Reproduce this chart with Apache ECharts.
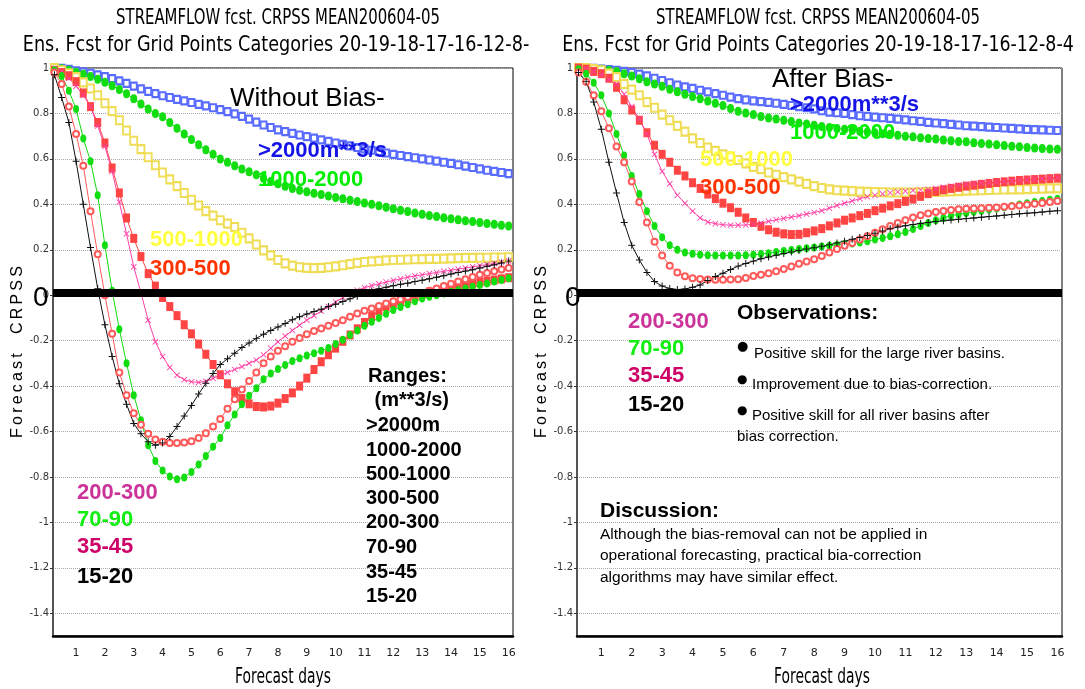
<!DOCTYPE html>
<html>
<head>
<meta charset="utf-8">
<title>Streamflow CRPSS</title>
<script src="https://cdn.jsdelivr.net/npm/echarts@6/dist/echarts.min.js"></script>
<style>
  html, body { margin: 0; padding: 0; background: #fff; }
  #chart { width: 1085px; height: 689px; }
</style>
</head>
<body>
<div id="chart"></div>
<script>
// forecast lead time, 6-hourly steps (days)
var days = [0.25,0.5,0.75,1,1.25,1.5,1.75,2,2.25,2.5,2.75,3,3.25,3.5,3.75,4,
  4.25,4.5,4.75,5,5.25,5.5,5.75,6,6.25,6.5,6.75,7,7.25,7.5,7.75,8,
  8.25,8.5,8.75,9,9.25,9.5,9.75,10,10.25,10.5,10.75,11,11.25,11.5,11.75,12,
  12.25,12.5,12.75,13,13.25,13.5,13.75,14,14.25,14.5,14.75,15,15.25,15.5,15.75,16];
var dayTicks = [1,2,3,4,5,6,7,8,9,10,11,12,13,14,15,16];
var crpssTicks = [-1.4,-1.2,-1,-0.8,-0.6,-0.4,-0.2,0,0.2,0.4,0.6,0.8,1];
var categories = ['>2000','1000-2000','500-1000','300-500','200-300','70-90','35-45','15-20'];

// Without bias correction
var rawGt2000 = [1.0,0.998,0.994,0.988,0.983,0.977,0.97,0.962,
  0.953,0.943,0.932,0.92,0.908,0.897,0.887,0.878,
  0.87,0.862,0.855,0.848,0.84,0.833,0.825,0.817,
  0.808,0.798,0.787,0.775,0.762,0.749,0.738,0.728,
  0.72,0.712,0.705,0.698,0.691,0.684,0.677,0.67,
  0.664,0.657,0.65,0.644,0.638,0.632,0.626,0.62,
  0.615,0.61,0.605,0.6,0.595,0.59,0.585,0.58,
  0.574,0.568,0.562,0.556,0.55,0.545,0.54,0.535];
var raw1000_2000 = [1.0,0.997,0.99,0.981,0.973,0.963,0.95,0.937,
  0.922,0.905,0.887,0.865,0.842,0.82,0.8,0.785,
  0.76,0.735,0.71,0.685,0.662,0.64,0.62,0.6,
  0.585,0.57,0.556,0.543,0.53,0.515,0.5,0.49,
  0.48,0.47,0.462,0.455,0.449,0.443,0.437,0.43,
  0.424,0.418,0.412,0.406,0.4,0.394,0.387,0.38,
  0.374,0.368,0.362,0.356,0.351,0.346,0.341,0.336,
  0.332,0.328,0.324,0.32,0.316,0.312,0.308,0.305];
var raw500_1000 = [1.0,0.99,0.977,0.96,0.937,0.91,0.88,0.845,
  0.81,0.77,0.725,0.68,0.643,0.607,0.572,0.54,
  0.51,0.48,0.45,0.42,0.395,0.37,0.35,0.33,
  0.315,0.3,0.275,0.25,0.223,0.197,0.175,0.155,
  0.14,0.13,0.123,0.12,0.119,0.12,0.123,0.127,
  0.132,0.137,0.142,0.146,0.149,0.151,0.153,0.155,
  0.156,0.157,0.158,0.159,0.16,0.16,0.161,0.162,
  0.163,0.164,0.164,0.165,0.165,0.166,0.166,0.167];
var raw300_500 = [0.99,0.98,0.966,0.94,0.89,0.83,0.76,0.67,
  0.56,0.45,0.34,0.25,0.17,0.095,0.04,-0.01,
  -0.05,-0.09,-0.13,-0.17,-0.215,-0.26,-0.305,-0.35,
  -0.39,-0.425,-0.455,-0.478,-0.49,-0.492,-0.488,-0.475,
  -0.455,-0.43,-0.4,-0.365,-0.327,-0.293,-0.262,-0.233,
  -0.203,-0.175,-0.148,-0.12,-0.093,-0.068,-0.05,-0.036,
  -0.025,-0.015,-0.005,0.005,0.013,0.02,0.026,0.032,
  0.038,0.044,0.05,0.056,0.062,0.067,0.072,0.077];
var raw200_300 = [0.995,0.985,0.955,0.92,0.88,0.83,0.745,0.655,
  0.545,0.41,0.27,0.125,0.01,-0.11,-0.205,-0.27,
  -0.318,-0.352,-0.372,-0.381,-0.384,-0.379,-0.366,-0.352,
  -0.34,-0.327,-0.314,-0.3,-0.286,-0.262,-0.234,-0.205,
  -0.18,-0.155,-0.132,-0.11,-0.09,-0.07,-0.05,-0.03,
  -0.01,0.008,0.022,0.033,0.042,0.05,0.058,0.065,
  0.072,0.079,0.085,0.09,0.095,0.1,0.105,0.11,
  0.115,0.12,0.125,0.13,0.135,0.14,0.145,0.15];
var raw70_90 = [0.99,0.965,0.9,0.82,0.69,0.59,0.44,0.22,
  0.02,-0.15,-0.3,-0.44,-0.55,-0.66,-0.73,-0.772,
  -0.798,-0.81,-0.802,-0.778,-0.745,-0.708,-0.667,-0.628,
  -0.572,-0.525,-0.48,-0.443,-0.41,-0.37,-0.345,-0.325,
  -0.307,-0.29,-0.277,-0.265,-0.255,-0.245,-0.232,-0.215,
  -0.196,-0.175,-0.155,-0.135,-0.117,-0.1,-0.082,-0.065,
  -0.052,-0.04,-0.027,-0.015,-0.007,0.0,0.008,0.015,
  0.022,0.03,0.037,0.045,0.052,0.06,0.067,0.075];
var raw35_45 = [0.98,0.93,0.83,0.71,0.57,0.37,0.18,0.0,
  -0.17,-0.34,-0.44,-0.52,-0.57,-0.61,-0.635,-0.645,
  -0.65,-0.651,-0.648,-0.643,-0.628,-0.608,-0.578,-0.545,
  -0.5,-0.458,-0.415,-0.378,-0.34,-0.3,-0.27,-0.245,
  -0.225,-0.205,-0.188,-0.172,-0.158,-0.147,-0.135,-0.122,
  -0.11,-0.095,-0.08,-0.068,-0.058,-0.047,-0.037,-0.027,
  -0.018,-0.008,0.002,0.01,0.02,0.03,0.04,0.05,
  0.06,0.07,0.08,0.09,0.098,0.105,0.113,0.12];
var raw15_20 = [0.97,0.87,0.76,0.59,0.4,0.21,0.03,-0.13,
  -0.27,-0.39,-0.48,-0.565,-0.61,-0.645,-0.66,-0.65,
  -0.622,-0.578,-0.532,-0.485,-0.435,-0.388,-0.345,-0.305,
  -0.28,-0.255,-0.23,-0.21,-0.19,-0.172,-0.155,-0.14,
  -0.125,-0.108,-0.095,-0.083,-0.072,-0.062,-0.05,-0.04,
  -0.028,-0.016,-0.005,0.008,0.018,0.028,0.035,0.042,
  0.048,0.053,0.06,0.066,0.072,0.079,0.086,0.093,
  0.1,0.106,0.112,0.12,0.127,0.134,0.142,0.15];

// After bias correction
var corGt2000 = [1.0,1.0,0.998,0.995,0.993,0.99,0.985,0.98,
  0.973,0.965,0.955,0.945,0.935,0.925,0.917,0.91,
  0.902,0.895,0.887,0.88,0.872,0.865,0.86,0.855,
  0.852,0.849,0.845,0.84,0.835,0.83,0.825,0.82,
  0.812,0.806,0.803,0.8,0.795,0.79,0.787,0.784,
  0.781,0.778,0.775,0.772,0.768,0.765,0.761,0.758,
  0.755,0.752,0.749,0.746,0.744,0.742,0.74,0.738,
  0.736,0.734,0.732,0.73,0.729,0.728,0.726,0.725];
var cor1000_2000 = [1.0,1.0,0.998,0.995,0.99,0.985,0.975,0.965,
  0.953,0.94,0.93,0.92,0.907,0.895,0.885,0.875,
  0.865,0.855,0.845,0.835,0.822,0.81,0.802,0.795,
  0.787,0.78,0.775,0.77,0.764,0.758,0.753,0.748,
  0.743,0.738,0.734,0.73,0.726,0.722,0.718,0.715,
  0.711,0.708,0.704,0.7,0.697,0.693,0.69,0.687,
  0.683,0.68,0.677,0.675,0.671,0.668,0.665,0.662,
  0.659,0.656,0.653,0.65,0.648,0.646,0.644,0.642];
var cor500_1000 = [1.0,1.0,0.995,0.99,0.975,0.96,0.93,0.905,
  0.88,0.85,0.825,0.795,0.77,0.745,0.72,0.69,
  0.67,0.65,0.635,0.62,0.61,0.595,0.58,0.565,
  0.555,0.54,0.53,0.52,0.51,0.5,0.49,0.48,
  0.472,0.466,0.462,0.46,0.458,0.456,0.455,0.454,
  0.453,0.452,0.452,0.452,0.452,0.453,0.454,0.455,
  0.456,0.457,0.458,0.46,0.461,0.462,0.463,0.464,
  0.465,0.466,0.466,0.467,0.468,0.469,0.47,0.47];
var cor300_500 = [1.0,0.995,0.985,0.975,0.955,0.915,0.86,0.815,
  0.77,0.715,0.66,0.62,0.585,0.55,0.525,0.495,
  0.47,0.445,0.425,0.405,0.385,0.365,0.34,0.32,
  0.303,0.288,0.277,0.27,0.267,0.268,0.275,0.283,
  0.293,0.305,0.318,0.33,0.34,0.35,0.36,0.372,
  0.383,0.393,0.403,0.413,0.423,0.435,0.447,0.457,
  0.464,0.47,0.475,0.48,0.484,0.488,0.492,0.496,
  0.499,0.502,0.505,0.507,0.509,0.511,0.513,0.515];
var cor200_300 = [1.0,0.995,0.985,0.97,0.95,0.93,0.885,0.83,
  0.775,0.71,0.62,0.545,0.49,0.44,0.405,0.37,
  0.34,0.322,0.315,0.31,0.308,0.308,0.309,0.312,
  0.318,0.325,0.332,0.338,0.344,0.35,0.357,0.364,
  0.372,0.383,0.395,0.405,0.415,0.425,0.433,0.44,
  0.446,0.451,0.455,0.458,0.461,0.463,0.466,0.47,
  0.475,0.48,0.484,0.488,0.49,0.493,0.496,0.498,
  0.501,0.504,0.506,0.509,0.511,0.513,0.516,0.518];
var cor70_90 = [0.995,0.975,0.935,0.88,0.8,0.71,0.615,0.525,
  0.445,0.37,0.305,0.255,0.22,0.2,0.188,0.182,
  0.178,0.176,0.175,0.175,0.175,0.175,0.176,0.178,
  0.181,0.185,0.19,0.195,0.199,0.203,0.207,0.21,
  0.214,0.218,0.221,0.225,0.228,0.232,0.238,0.245,
  0.252,0.26,0.268,0.278,0.291,0.305,0.318,0.33,
  0.34,0.35,0.356,0.362,0.367,0.372,0.377,0.382,
  0.387,0.393,0.399,0.405,0.41,0.415,0.42,0.425];
var cor35_45 = [0.98,0.94,0.88,0.81,0.735,0.655,0.585,0.5,
  0.41,0.32,0.235,0.175,0.13,0.1,0.083,0.075,
  0.071,0.069,0.068,0.068,0.069,0.07,0.076,0.084,
  0.09,0.097,0.105,0.115,0.126,0.138,0.148,0.158,
  0.172,0.188,0.203,0.218,0.23,0.245,0.26,0.275,
  0.29,0.305,0.318,0.33,0.342,0.352,0.36,0.366,
  0.371,0.375,0.378,0.38,0.382,0.383,0.385,0.386,
  0.389,0.392,0.395,0.398,0.402,0.406,0.41,0.415];
var cor15_20 = [0.98,0.94,0.85,0.73,0.585,0.45,0.32,0.22,
  0.155,0.1,0.06,0.04,0.03,0.025,0.027,0.035,
  0.045,0.065,0.082,0.097,0.113,0.128,0.14,0.15,
  0.16,0.168,0.176,0.184,0.19,0.197,0.203,0.209,
  0.215,0.222,0.23,0.238,0.246,0.254,0.263,0.273,
  0.283,0.292,0.3,0.306,0.311,0.316,0.32,0.324,
  0.328,0.331,0.334,0.337,0.34,0.343,0.346,0.349,
  0.352,0.355,0.358,0.361,0.363,0.366,0.369,0.372];

var rawSets = [rawGt2000, raw1000_2000, raw500_1000, raw300_500, raw200_300, raw70_90, raw35_45, raw15_20];
var corSets = [corGt2000, cor1000_2000, cor500_1000, cor300_500, cor200_300, cor70_90, cor35_45, cor15_20];

var SANS = '"Liberation Sans", Arial, sans-serif';
var PLAIN = '"DejaVu Sans", sans-serif';
var XMARK = 'path://M0,1L1,0L5,4L9,0L10,1L6,5L10,9L9,10L5,6L1,10L0,9L4,5Z';
var PLUS = 'path://M4.3,0H5.7V4.3H10V5.7H5.7V10H4.3V5.7H0V4.3H4.3Z';

var looks = [
  {color: '#5a6cff', symbol: 'emptyRect', size: [6, 7]},
  {color: '#11dd11', symbol: 'circle', size: [7, 9]},
  {color: '#eedd55', symbol: 'emptyRect', size: [7, 8]},
  {color: '#ff4444', symbol: 'rect', size: [7, 9]},
  {color: '#ff3fa5', symbol: XMARK, size: 6},
  {color: '#11dd11', symbol: 'circle', size: [6, 8]},
  {color: '#ff5a5a', symbol: 'emptyCircle', size: 6},
  {color: '#111111', symbol: PLUS, size: 7}
];

function buildSeries(sets, gi) {
  var out = [];
  for (var k = 0; k < sets.length; k++) {
    var lk = looks[k];
    var vals = sets[k];
    var s = {
      name: categories[k],
      type: 'line',
      xAxisIndex: gi,
      yAxisIndex: gi,
      data: days.map(function (d, i) { return [d, vals[i]]; }),
      symbol: lk.symbol,
      symbolSize: lk.size,
      showAllSymbol: true,
      silent: true,
      animation: false,
      lineStyle: {color: lk.color, width: 1},
      itemStyle: {color: lk.color, borderWidth: 1}
    };
    if (k === 0) {
      // thick zero line drawn over the curves
      s.markLine = {
        silent: true,
        symbol: 'none',
        animation: false,
        label: {show: false},
        lineStyle: {color: '#000', width: 8, type: 'solid'},
        data: [{yAxis: 0.012}]
      };
    }
    out.push(s);
  }
  return out;
}

function xAxisFor(gi) {
  return {
    type: 'value', gridIndex: gi, min: 0.2, max: 16.15,
    axisLine: {show: true, onZero: false, lineStyle: {color: '#000', width: 2.5}},
    axisTick: {show: false},
    axisLabel: {customValues: dayTicks, fontFamily: PLAIN, fontSize: 11, color: '#222', margin: 12},
    splitLine: {show: false}
  };
}

function yAxisFor(gi) {
  return {
    type: 'value', gridIndex: gi, min: -1.5, max: 1,
    name: 'F\u2009o\u2009r\u2009e\u2009c\u2009a\u2009s\u2009t\u2003\u2009C\u2009R\u2009P\u2009S\u2009S',
    nameLocation: 'middle', nameGap: 27, nameRotate: 90,
    nameTextStyle: {fontFamily: SANS, fontSize: 16, color: '#000'},
    axisLine: {show: true, lineStyle: {color: '#555', width: 2}},
    axisTick: {show: true, length: 3, customValues: crpssTicks, lineStyle: {color: '#333'}},
    axisLabel: {customValues: crpssTicks, fontFamily: PLAIN, fontSize: 10, color: '#333', margin: 4},
    splitLine: {show: true, lineStyle: {color: '#aaa', type: 'dotted', width: 1}}
  };
}

function txt(x, y, text, size, color, bold, family, align, sx) {
  return {
    type: 'text', x: x, y: y, z: 100, silent: true,
    scaleX: sx || 1,
    style: {
      text: text,
      font: (bold ? 'bold ' : '') + size + 'px ' + (family || SANS),
      fill: color,
      align: align || 'left',
      verticalAlign: 'middle'
    }
  };
}

var graphics = [
  // titles, squeezed to mimic the narrow plotter font
  txt(278, 19, 'STREAMFLOW fcst. CRPSS MEAN200604-05', 21, '#000', false, PLAIN, 'center', 0.71),
  txt(276, 46, 'Ens. Fcst for Grid Points Categories 20-19-18-17-16-12-8-', 21, '#000', false, PLAIN, 'center', 0.84),
  txt(818, 19, 'STREAMFLOW fcst. CRPSS MEAN200604-05', 21, '#000', false, PLAIN, 'center', 0.71),
  txt(818, 46, 'Ens. Fcst for Grid Points Categories 20-19-18-17-16-12-8-4', 21, '#000', false, PLAIN, 'center', 0.83),
  txt(283, 678, 'Forecast days', 21, '#000', false, PLAIN, 'center', 0.66),
  txt(822, 678, 'Forecast days', 21, '#000', false, PLAIN, 'center', 0.66),

  // left panel
  txt(33, 298, '0', 28, '#000'),
  txt(230, 99, 'Without Bias-', 26, '#000'),
  txt(258, 151, '>2000m**3/s', 22, '#1414e6', true),
  txt(258, 180, '1000-2000', 22, '#00ee00', true),
  txt(150, 240, '500-1000', 22, '#ffff40', true),
  txt(150, 269, '300-500', 22, '#ff3300', true),
  txt(77, 493, '200-300', 22, '#cc3399', true),
  txt(77, 520, '70-90', 22, '#11ee11', true),
  txt(77, 547, '35-45', 22, '#cc0066', true),
  txt(77, 577, '15-20', 22, '#000', true),
  txt(368, 376, 'Ranges:', 20, '#000', true),
  txt(369, 400, ' (m**3/s)', 20, '#000', true),
  txt(366, 425, '>2000m', 20, '#000', true),
  txt(366, 450, '1000-2000', 20, '#000', true),
  txt(366, 474, '500-1000', 20, '#000', true),
  txt(366, 498, '300-500', 20, '#000', true),
  txt(366, 522, '200-300', 20, '#000', true),
  txt(366, 547, '70-90', 20, '#000', true),
  txt(366, 572, '35-45', 20, '#000', true),
  txt(366, 596, '15-20', 20, '#000', true),

  // right panel
  txt(565, 298, '0', 28, '#000'),
  txt(772, 80, 'After Bias-', 26, '#000'),
  txt(790, 105, '>2000m**3/s', 22, '#1414e6', true),
  txt(790, 133, '1000-2000', 22, '#00ee00', true),
  txt(700, 160, '500-1000', 22, '#ffff40', true),
  txt(700, 188, '300-500', 22, '#ff3300', true),
  txt(628, 322, '200-300', 22, '#cc3399', true),
  txt(628, 349, '70-90', 22, '#11ee11', true),
  txt(628, 376, '35-45', 22, '#cc0066', true),
  txt(628, 405, '15-20', 22, '#000', true),
  txt(737, 313, 'Observations:', 21, '#000', true),
  txt(737, 347, '\u25CF', 13, '#000', false, PLAIN),
  txt(754, 354, 'Positive skill for the large river basins.', 15, '#000'),
  txt(737, 380, '\u25CF', 12, '#000', false, PLAIN),
  txt(752, 385, 'Improvement due to bias-correction.', 15, '#000'),
  txt(737, 411, '\u25CF', 12, '#000', false, PLAIN),
  txt(752, 416, 'Positive skill for all river basins after', 15, '#000'),
  txt(737, 437, 'bias correction.', 15, '#000'),
  txt(600, 511, 'Discussion:', 21, '#000', true),
  txt(600, 535, 'Although the bias-removal can not be applied in', 15.5, '#000'),
  txt(600, 556, 'operational forecasting, practical bia-correction', 15.5, '#000'),
  txt(600, 578, 'algorithms may have similar effect.', 15.5, '#000')
];

var chart = echarts.init(document.getElementById('chart'), null, {renderer: 'canvas'});
chart.setOption({
  animation: false,
  backgroundColor: '#fff',
  grid: [
    {left: 53, top: 68, width: 460, height: 568, outerBoundsMode: 'none', containLabel: false,
      show: true, borderColor: '#000', borderWidth: 1},
    {left: 577, top: 68, width: 485, height: 568, outerBoundsMode: 'none', containLabel: false,
      show: true, borderColor: '#000', borderWidth: 1}
  ],
  xAxis: [xAxisFor(0), xAxisFor(1)],
  yAxis: [yAxisFor(0), yAxisFor(1)],
  series: buildSeries(rawSets, 0).concat(buildSeries(corSets, 1)),
  graphic: graphics
});
</script>
</body>
</html>
